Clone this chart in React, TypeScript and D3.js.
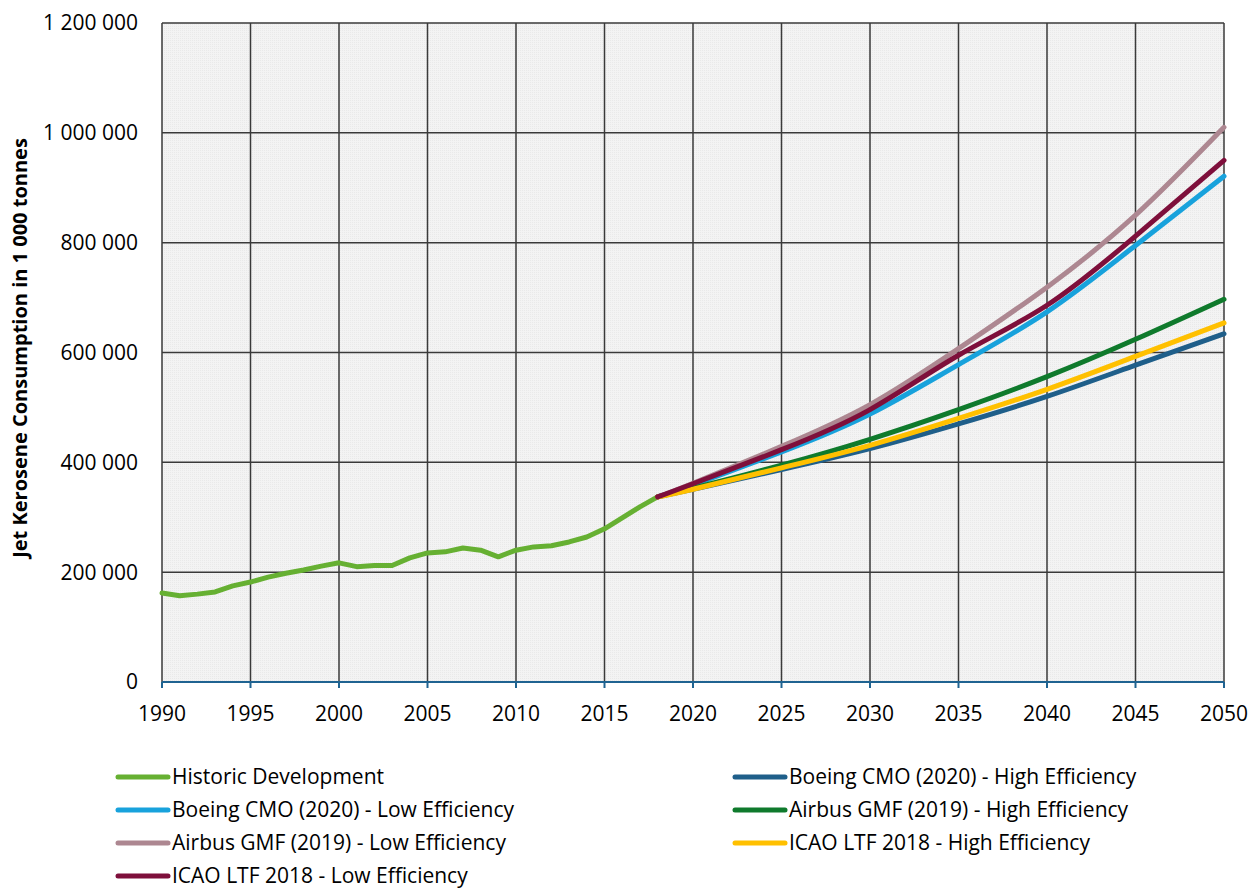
import React from "react";
import * as d3 from "d3";

const historicYears = [1990,1991,1992,1993,1994,1995,1996,1997,1998,1999,2000,2001,2002,2003,2004,2005,2006,2007,2008,2009,2010,2011,2012,2013,2014,2015,2016,2017,2018];
const historicValues = [162000,157000,160000,164000,175000,182000,191000,198000,204000,211000,217000,210000,212000,212000,226000,235000,237000,244000,240000,228000,240000,246000,248000,255000,264000,279000,299000,319000,337000];

const projYears = [2018,2020,2025,2030,2035,2040,2045,2050];
const boeingHigh = [337000,351000,387000,425000,470000,520000,577000,634000];
const boeingLow = [337000,359000,419000,488000,578000,674000,795000,921000];
const airbusHigh = [337000,353000,395000,442000,496000,556000,624000,697000];
const airbusLow = [337000,362000,429000,505000,607000,719000,850000,1010000];
const icaoHigh = [337000,351000,390000,431000,480000,533000,593000,654000];
const icaoLow = [337000,361000,423000,496000,595000,686000,812000,950000];

const xTicks = [1990,1995,2000,2005,2010,2015,2020,2025,2030,2035,2040,2045,2050];
const yTicks = [0,200000,400000,600000,800000,1000000,1200000];

const seriesNames = [
  "Historic Development",
  "Boeing CMO (2020) - High Efficiency",
  "Boeing CMO (2020) - Low Efficiency",
  "Airbus GMF (2019) - High Efficiency",
  "Airbus GMF (2019) - Low Efficiency",
  "ICAO LTF 2018 - High Efficiency",
  "ICAO LTF 2018 - Low Efficiency",
];
const seriesColors = ["#66b032","#1f5f8a","#18a2dc","#0f7a2c","#ad8791","#ffc000","#7e0f3b"];

const FONT = "'Open Sans', 'Noto Sans', sans-serif";

export default function App() {
  const W = 1257, H = 890;
  const x = d3.scaleLinear().domain([1990, 2050]).range([162, 1224]);
  const y = d3.scaleLinear().domain([0, 1200000]).range([682, 23]);
  const fmt = d3.formatLocale({ decimal: ".", thousands: " ", grouping: [3], currency: ["", ""] }).format(",d");

  const line = d3.line<[number, number]>().x(d => x(d[0])).y(d => y(d[1])).curve(d3.curveNatural);
  const histLine = d3.line<[number, number]>().x(d => x(d[0])).y(d => y(d[1]));

  const projs = [boeingHigh, boeingLow, airbusHigh, airbusLow, icaoHigh, icaoLow];
  const series: { name: string; color: string; path: string }[] = [];
  series.push({ name: seriesNames[0], color: seriesColors[0], path: histLine(historicYears.map((yr, i) => [yr, historicValues[i]] as [number, number])) || "" });
  projs.forEach((vals, k) => {
    series.push({ name: seriesNames[k + 1], color: seriesColors[k + 1], path: line(projYears.map((yr, i) => [yr, vals[i]] as [number, number])) || "" });
  });

  const legendPos = (i: number) => {
    const r = Math.floor(i / 2);
    const c = i % 2;
    return { lx: c === 0 ? 118 : 735, ly: 777 + r * 33 };
  };

  return (
    <svg width={W} height={H} style={{ position: "absolute", left: 0, top: 0, background: "#fff" }}>
      <defs>
        <pattern id="dots" width="2" height="2" patternUnits="userSpaceOnUse">
          <rect width="2" height="2" fill="#f3f3f3" />
          <rect width="1" height="1" fill="#e9e9e9" />
        </pattern>
      </defs>
      <rect x={x(1990)} y={y(1200000)} width={x(2050) - x(1990)} height={y(0) - y(1200000)} fill="url(#dots)" />
      {xTicks.map(t => (
        <line key={"gx" + t} x1={x(t)} x2={x(t)} y1={y(1200000)} y2={y(0)} stroke="#3a3a3a" strokeWidth={1.5} />
      ))}
      {yTicks.map(t => (
        <line key={"gy" + t} x1={x(1990)} x2={x(2050)} y1={y(t)} y2={y(t)} stroke="#3a3a3a" strokeWidth={1.5} />
      ))}
      <line x1={x(1990)} x2={x(2050)} y1={y(0)} y2={y(0)} stroke="#1f6391" strokeWidth={2} />
      {xTicks.map(t => (
        <line key={"tx" + t} x1={x(t)} x2={x(t)} y1={y(0)} y2={y(0) + 6} stroke="#1f6391" strokeWidth={2} />
      ))}
      {yTicks.map(t => (
        <text key={"ly" + t} x={138} y={y(t)} dy="0.35em" textAnchor="end" fontFamily={FONT} fontSize={21} fill="#000">{fmt(t)}</text>
      ))}
      {xTicks.map(t => (
        <text key={"lx" + t} x={x(t)} y={714} dy="0.35em" textAnchor="middle" fontFamily={FONT} fontSize={21} fill="#000">{t}</text>
      ))}
      <text transform={`translate(27,348) rotate(-90)`} textAnchor="middle" fontFamily={FONT} fontSize={20} fontWeight="bold" fill="#000">Jet Kerosene Consumption in 1 000 tonnes</text>
      {series.map(s => (
        <path key={s.name} d={s.path} fill="none" stroke={s.color} strokeWidth={5} strokeLinejoin="round" strokeLinecap="round" />
      ))}
      {series.map((s, i) => {
        const p = legendPos(i);
        return (
          <g key={"lg" + s.name}>
            <line x1={p.lx} x2={p.lx + 50} y1={p.ly} y2={p.ly} stroke={s.color} strokeWidth={5} strokeLinecap="round" />
            <text x={p.lx + 54} y={p.ly} dy="0.33em" fontFamily={FONT} fontSize={21} fill="#000">{s.name}</text>
          </g>
        );
      })}
    </svg>
  );
}
